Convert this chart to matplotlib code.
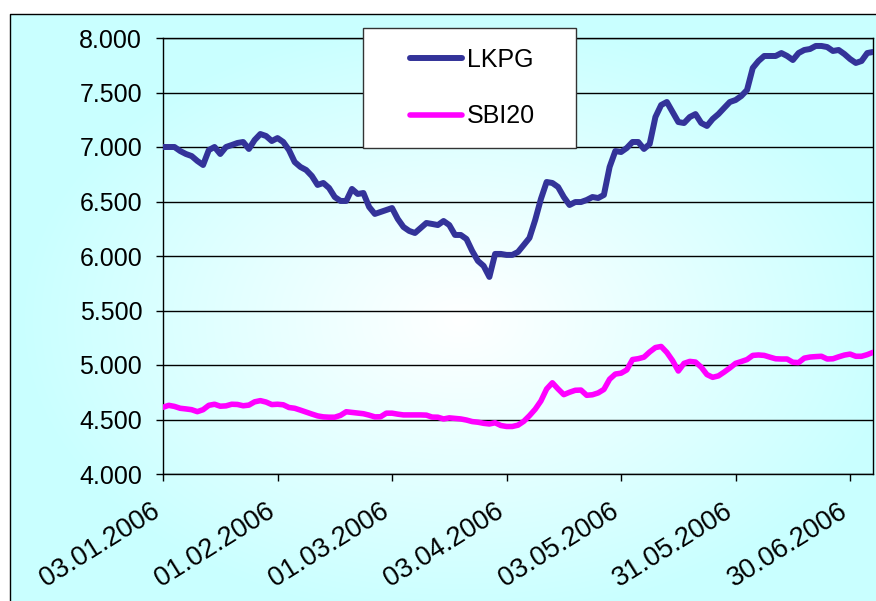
import numpy as np
import matplotlib
matplotlib.use('Agg')
import matplotlib.pyplot as plt
import matplotlib.transforms as mtransforms
from matplotlib.patches import Rectangle
from matplotlib.ticker import FuncFormatter, MultipleLocator

plt.rcParams['font.family'] = ['Liberation Sans', 'DejaVu Sans']

# category axis: one label every 20 trading days
tick_labels = ['03.01.2006', '01.02.2006', '01.03.2006', '03.04.2006',
               '03.05.2006', '31.05.2006', '30.06.2006']
tick_step = 20

lkpg = [7000, 7000, 7000, 6963, 6936, 6917, 6872, 6835, 6972, 7000,
        6936, 7000, 7018, 7037, 7046, 6982, 7064, 7119, 7101, 7055,
        7082, 7046, 6972, 6862, 6817, 6789, 6734, 6652, 6670, 6624,
        6541, 6505, 6505, 6615, 6569, 6578, 6450, 6386, 6404, 6422,
        6440, 6340, 6266, 6230, 6211, 6257, 6303, 6294, 6284, 6321,
        6284, 6193, 6193, 6156, 6046, 5955, 5909, 5808, 6019, 6019,
        6010, 6010, 6037, 6101, 6166, 6330, 6523, 6679, 6670, 6633,
        6541, 6468, 6495, 6495, 6514, 6541, 6532, 6560, 6817, 6963,
        6954, 6991, 7046, 7046, 6982, 7028, 7275, 7385, 7413, 7321,
        7229, 7220, 7275, 7302, 7220, 7193, 7257, 7302, 7358, 7413,
        7431, 7468, 7523, 7725, 7789, 7835, 7835, 7835, 7862, 7835,
        7798, 7862, 7890, 7899, 7927, 7927, 7917, 7881, 7890, 7853,
        7807, 7771, 7789, 7862, 7872]

sbi20 = [4612, 4630, 4620, 4603, 4597, 4590, 4572, 4590, 4630, 4640,
         4622, 4625, 4640, 4638, 4626, 4632, 4662, 4673, 4660, 4637,
         4640, 4635, 4610, 4603, 4586, 4568, 4550, 4533, 4524, 4521,
         4521, 4538, 4571, 4565, 4559, 4553, 4540, 4524, 4525, 4558,
         4558, 4549, 4542, 4542, 4542, 4542, 4540, 4522, 4521, 4505,
         4515, 4510, 4505, 4495, 4481, 4475, 4465, 4459, 4470, 4445,
         4436, 4436, 4448, 4483, 4535, 4594, 4670, 4780, 4837, 4780,
         4728, 4750, 4768, 4770, 4722, 4727, 4744, 4776, 4870, 4917,
         4925, 4955, 5050, 5058, 5072, 5120, 5160, 5170, 5115, 5040,
         4945, 5015, 5033, 5027, 4980, 4912, 4887, 4900, 4935, 4973,
         5015, 5032, 5050, 5088, 5092, 5088, 5072, 5057, 5055, 5055,
         5025, 5022, 5063, 5073, 5077, 5080, 5055, 5057, 5075, 5091,
         5100, 5080, 5080, 5095, 5116]

W, H = 876, 601
fig = plt.figure(figsize=(W / 100, H / 100), dpi=100)

# chart area with a light cyan gradient from the centre
bg = fig.add_axes([0, 0, 1, 1], zorder=-10)
yy, xx = np.mgrid[0:H, 0:W]
t = np.clip(np.sqrt(((xx - 460) / 440.0) ** 2 + ((yy - 320) / 300.0) ** 2), 0, 1)
img = np.ones((H, W, 3))
img[..., 0] = 1 - 0.21 * t
img[(xx < 10) | (yy < 14)] = 1
bg.imshow(img, extent=(0, W, H, 0), aspect='auto', interpolation='bilinear')
bg.plot([10, 10, W + 5], [H + 5, 14, 14], color='black', lw=1)
bg.set_xlim(0, W)
bg.set_ylim(H, 0)
bg.axis('off')

ax = fig.add_axes([163 / W, 1 - 474 / H, (873 - 163) / W, (474 - 38) / H])
ax.set_facecolor('none')

x = np.arange(len(lkpg))
l1, = ax.plot(x, lkpg, color='#333399', lw=4.3, solid_joinstyle='round',
              solid_capstyle='round', zorder=3)
l2, = ax.plot(x, sbi20, color='#FF00FF', lw=4, solid_joinstyle='round',
              solid_capstyle='round', zorder=3)

ax.set_xlim(0, len(lkpg) - 1)
ax.set_ylim(4000, 8000)
ax.yaxis.set_major_locator(MultipleLocator(500))
ax.yaxis.set_major_formatter(FuncFormatter(lambda v, p: f'{v:,.0f}'.replace(',', '.')))
ax.set_xticks(np.arange(len(tick_labels)) * tick_step)
ax.set_xticklabels(tick_labels, rotation=32, ha='right', va='center',
                   rotation_mode='anchor', fontsize=19.5)
ax.tick_params(axis='both', direction='out', length=5, width=1, color='black')
ax.tick_params(axis='y', pad=10, labelsize=18)
ax.tick_params(axis='x', pad=20)
shift = mtransforms.ScaledTranslation(-5 / 100, 0, fig.dpi_scale_trans)
for lab in ax.get_xticklabels():
    lab.set_transform(lab.get_transform() + shift)
ax.grid(axis='y', color='black', lw=1)
ax.grid(axis='x', visible=False)
for s in ax.spines.values():
    s.set_color('black')
    s.set_linewidth(1)

# legend box
fig.add_artist(Rectangle((363 / W, 1 - 148 / H), 213 / W, 120 / H, transform=fig.transFigure,
                         facecolor='white', edgecolor='#333333', lw=1, zorder=4))
fig.legend([l1, l2], ['LKPG', 'SBI20'], loc='center',
           bbox_to_anchor=((366 + 579) / 2 / W, 1 - 88 / H), frameon=False,
           fontsize=18, handlelength=2.1, handletextpad=0.2, labelspacing=1.3, borderpad=0)

fig.savefig('out.png', dpi=100)
